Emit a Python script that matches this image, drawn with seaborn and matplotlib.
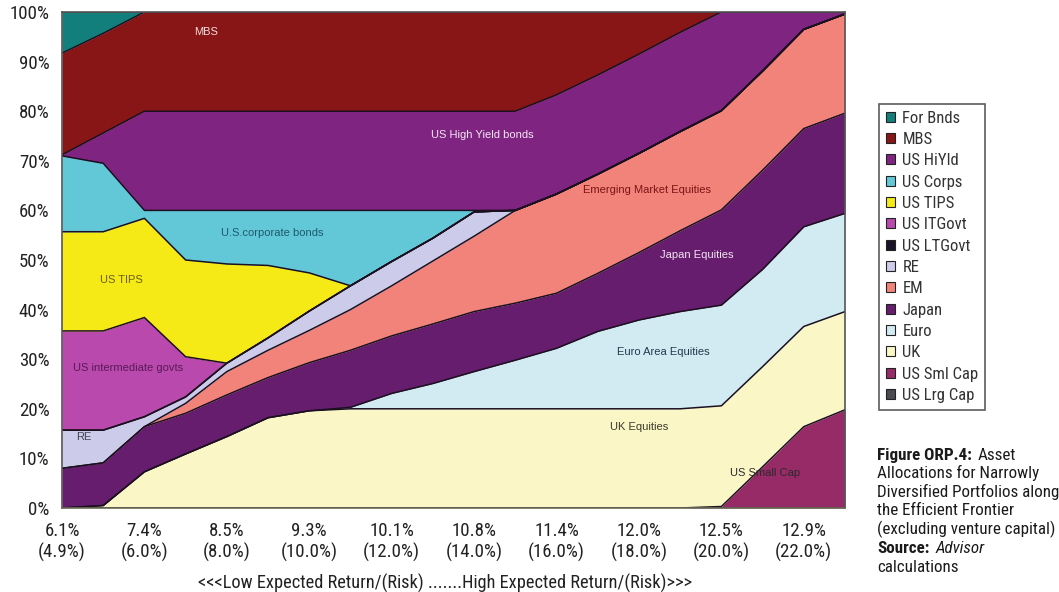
import matplotlib
matplotlib.use("Agg")
import numpy as np
import pandas as pd
import matplotlib.pyplot as plt
import seaborn as sns
from matplotlib.patches import Patch
from matplotlib import font_manager as fm

# Expected return and (risk) shown under every second frontier portfolio
return_labels = ["6.1%", "7.4%", "8.5%", "9.3%", "10.1%", "10.8%", "11.4%", "12.0%", "12.5%", "12.9%"]
risk_labels = ["(4.9%)", "(6.0%)", "(8.0%)", "(10.0%)", "(12.0%)", "(14.0%)", "(16.0%)", "(18.0%)", "(20.0%)", "(22.0%)"]

# Allocation (% of portfolio) for the 20 frontier portfolios, lowest to highest risk
us_lrg_cap = [0, 0, 0, 0, 0, 0, 0, 0, 0, 0, 0, 0, 0, 0, 0, 0, 0, 0, 0, 0]
us_sml_cap = [0, 0, 0, 0, 0, 0, 0, 0, 0, 0, 0, 0, 0, 0, 0, 0, 0.3, 8.3, 16.4, 19.8]
uk = [0, 0.5, 7.3, 10.9, 14.4, 18.2, 19.6, 20, 20, 20, 20, 20, 20, 20, 20, 20, 20.3, 20.2, 20.2, 19.8]
euro = [0, 0, 0, 0, 0, 0, 0, 0.3, 3.1, 5.1, 7.5, 9.8, 12.2, 15.6, 17.9, 19.6, 20.3, 19.6, 20.1, 19.8]
japan = [8.0, 8.6, 9.1, 8.2, 8.4, 8.1, 9.7, 11.5, 11.6, 12.0, 12.1, 11.5, 11.1, 11.7, 13.6, 16.3, 19.2, 20.0, 19.8, 20.2]
em = [0, 0, 0, 2.0, 4.7, 5.5, 6.5, 8.2, 10.1, 12.7, 15.2, 18.7, 20, 20, 20, 20, 20, 20, 20, 20]
re = [7.7, 6.6, 2.0, 1.3, 1.7, 2.5, 3.9, 4.8, 4.9, 4.6, 4.9, 0, 0, 0, 0, 0, 0, 0, 0, 0]
us_lt_govt = [0, 0, 0, 0, 0, 0, 0, 0, 0, 0, 0, 0, 0, 0, 0, 0, 0, 0, 0, 0]
us_it_govt = [20, 20, 20, 8.1, 0, 0, 0, 0, 0, 0, 0, 0, 0, 0, 0, 0, 0, 0, 0, 0]
us_tips = [20, 20, 20, 19.5, 20, 14.6, 7.7, 0, 0, 0, 0, 0, 0, 0, 0, 0, 0, 0, 0, 0]
us_corps = [15.3, 13.8, 1.6, 10, 10.8, 11.1, 12.6, 15.2, 10.3, 5.6, 0.3, 0, 0, 0, 0, 0, 0, 0, 0, 0]
us_hiyld = [0.2, 6.1, 20, 20, 20, 20, 20, 20, 20, 20, 20, 20, 20, 20, 20, 20, 19.9, 11.9, 3.5, 0.4]
mbs = [20.5, 20.1, 20, 20, 20, 20, 20, 20, 20, 20, 20, 20, 16.7, 12.7, 8.5, 4.1, 0, 0, 0, 0]
for_bnds = [8.3, 4.3, 0, 0, 0, 0, 0, 0, 0, 0, 0, 0, 0, 0, 0, 0, 0, 0, 0, 0]

# Stacking order, bottom to top
assets = ["US Lrg Cap", "US Sml Cap", "UK", "Euro", "Japan", "EM", "RE", "US LTGovt",
          "US ITGovt", "US TIPS", "US Corps", "US HiYld", "MBS", "For Bnds"]
alloc = pd.DataFrame({
    "US Lrg Cap": us_lrg_cap, "US Sml Cap": us_sml_cap, "UK": uk, "Euro": euro,
    "Japan": japan, "EM": em, "RE": re, "US LTGovt": us_lt_govt, "US ITGovt": us_it_govt,
    "US TIPS": us_tips, "US Corps": us_corps, "US HiYld": us_hiyld, "MBS": mbs,
    "For Bnds": for_bnds,
})[assets]
alloc.index.name = "pos"

colors = {
    "For Bnds": "#127f7c", "MBS": "#881616", "US HiYld": "#7f2480", "US Corps": "#62c8d8",
    "US TIPS": "#f6ea16", "US ITGovt": "#b949ad", "US LTGovt": "#1a1226", "RE": "#cdcbea",
    "EM": "#f2837a", "Japan": "#661d6d", "Euro": "#d2ebf3", "UK": "#fbf6c6",
    "US Sml Cap": "#962b68", "US Lrg Cap": "#4a4a52",
}

sns.set_theme(style="white")

# Condensed sans for the axis, legend and caption text
font_names = {f.name for f in fm.fontManager.ttflist}
family = ["Liberation Sans", "DejaVu Sans"]
scale = 0.88
for cand, cand_scale in [("Roboto Condensed", 1.0), ("Liberation Sans Narrow", 0.93),
                         ("Open Sans Condensed", 0.95)]:
    if cand in font_names:
        family = [cand, "DejaVu Sans"]
        scale = cand_scale
        break
plt.rcParams["font.family"] = family

W, H = 1059, 592
fig = plt.figure(figsize=(W / 100, H / 100), dpi=100)
fig.patch.set_facecolor("white")
ax = fig.add_axes([62 / W, 1 - 508 / H, (845 - 62) / W, (508 - 12) / H])

tops = alloc.cumsum(axis=1)
bottoms = tops - alloc
x = alloc.index.to_numpy()
for name in assets:
    ax.fill_between(x, bottoms[name], tops[name], color=colors[name], linewidth=0, zorder=1)

# Boundary line on top of every band
edges = tops.reset_index().melt(id_vars="pos", var_name="asset", value_name="top")
sns.lineplot(data=edges, x="pos", y="top", units="asset", estimator=None,
             color="#1b1020", linewidth=1.1, legend=False, ax=ax, zorder=2)

ax.set_xlim(0, len(x) - 1)
ax.set_ylim(0, 100)
ax.set_xlabel("")
ax.set_ylabel("")

tick_size = 13.6 * scale
ax.set_yticks(np.arange(0, 101, 10))
ax.set_yticklabels([f"{v}%" for v in range(0, 101, 10)], fontsize=tick_size, color="#222222")
xt_labels = []
for i in range(len(x)):
    if i % 2 == 0:
        xt_labels.append(f"{return_labels[i // 2]}\n{risk_labels[i // 2]}")
    else:
        xt_labels.append("")
ax.set_xticks(x)
ax.set_xticklabels(xt_labels, fontsize=tick_size, color="#222222", linespacing=1.2)
ax.tick_params(axis="both", direction="out", length=3, width=1, color="#555555")
ax.tick_params(axis="x", pad=7)
ax.tick_params(axis="y", pad=6)
for s in ax.spines.values():
    s.set_visible(True)
    s.set_color("#555555")
    s.set_linewidth(1.2)
    s.set_zorder(3)
ax.spines["bottom"].set_color("#6e6e5a")

# Band names written on the chart
band_text = [
    ("MBS", 3.5, 96, "#f3dcdc"),
    ("US High Yield bonds", 10.2, 75.2, "#f2e6f2"),
    ("U.S.corporate bonds", 5.1, 55.4, "#1c5a6c"),
    ("US TIPS", 1.45, 46, "#6a5e12"),
    ("US intermediate govts", 1.6, 28.2, "#5a1a58"),
    ("RE", 0.53, 14.3, "#444455"),
    ("Emerging Market Equities", 14.2, 64.1, "#7a1414"),
    ("Japan Equities", 15.4, 51.0, "#f2e6f2"),
    ("Euro Area Equities", 14.6, 31.5, "#223a4a"),
    ("UK Equities", 14.0, 16.4, "#3a3a2a"),
    ("US Small Cap", 17.06, 7.1, "#2a2a2a"),
]
for txt, tx, ty, tc in band_text:
    ax.text(tx, ty, txt, fontsize=8, color=tc, ha="center", va="center",
            family=["Liberation Sans", "DejaVu Sans"], zorder=4)

fig.text(445 / W, 1 - 583 / H,
         "<<<Low Expected Return/(Risk) .......High Expected Return/(Risk)>>>",
         ha="center", va="center", fontsize=13.2 * scale, color="#222222")

# Legend, top series first
handles = [Patch(facecolor=colors[n], edgecolor="#222222", linewidth=0.8, label=n)
           for n in reversed(assets)]
leg = fig.legend(handles=handles, loc="upper left", bbox_to_anchor=(879 / W, 1 - 104 / H),
                 fontsize=12 * scale, frameon=True, fancybox=False, edgecolor="#333333",
                 handlelength=0.55, handleheight=0.55, handletextpad=0.45,
                 labelspacing=0.38, borderpad=0.4, borderaxespad=0)
leg.get_frame().set_linewidth(1.2)
for t in leg.get_texts():
    t.set_color("#333333")

# Caption block beside the chart
caption = [
    [("Figure ORP.4:", "bold", "normal"), ("Asset", "normal", "normal")],
    [("Allocations for Narrowly", "normal", "normal")],
    [("Diversified Portfolios along", "normal", "normal")],
    [("the Efficient Frontier", "normal", "normal")],
    [("(excluding venture capital)", "normal", "normal")],
    [("Source:", "bold", "normal"), ("Advisor", "normal", "italic")],
    [("calculations", "normal", "normal")],
]
baselines = [460, 478, 497, 515, 534, 553, 572]
fig.canvas.draw()
renderer = fig.canvas.get_renderer()
# fit the widest caption line into the space right of the legend
probe = fig.text(0, 0, "(excluding venture capital)", fontsize=13)
cap_size = 13 * min(1.0, 178 / probe.get_window_extent(renderer=renderer).width)
probe.remove()
for parts, by in zip(caption, baselines):
    cx = 877
    for piece, weight, style in parts:
        t = fig.text(cx / W, 1 - by / H, piece, fontsize=cap_size, fontweight=weight,
                     fontstyle=style, ha="left", va="baseline", color="#1a1a1a")
        bb = t.get_window_extent(renderer=renderer)
        cx += bb.width + 6

fig.savefig("out.png", dpi=100, facecolor="white")
